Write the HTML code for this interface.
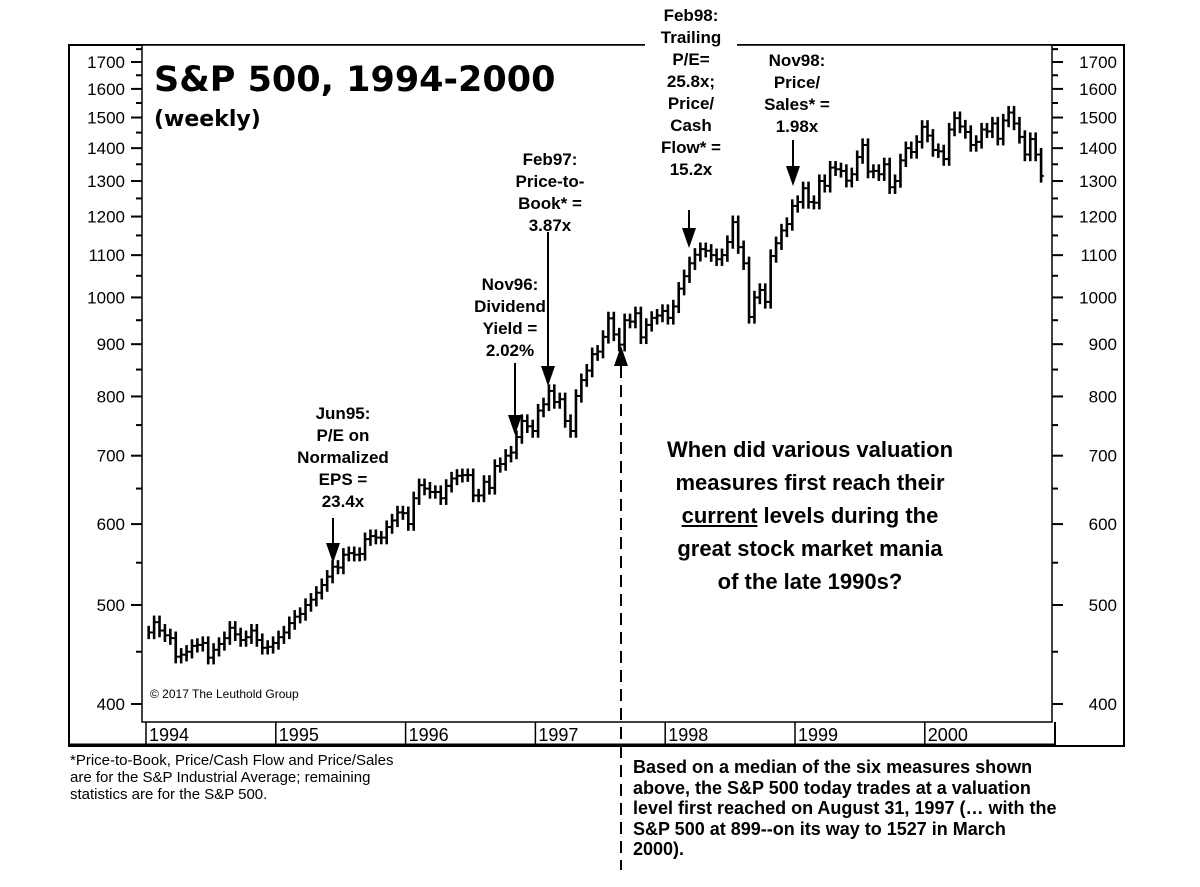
<!DOCTYPE html>
<html><head><meta charset="utf-8">
<style>
html,body{margin:0;padding:0;background:#fff;}
body{width:1200px;height:887px;position:relative;overflow:hidden;font-family:"Liberation Sans",Arial,sans-serif;color:#000;}
.ann{position:absolute;text-align:center;font-weight:bold;font-size:17px;line-height:22px;}
.foot{position:absolute;font-size:15px;line-height:17px;}
.note{position:absolute;font-size:18px;line-height:20.5px;font-weight:bold;}
.q{position:absolute;text-align:center;font-weight:bold;font-size:22px;line-height:33px;}
</style></head>
<body>
<svg id="chart" width="1200" height="887" style="position:absolute;left:0;top:0">
  <rect x="69" y="45" width="1055" height="701" fill="none" stroke="#000" stroke-width="2"/>
  <rect x="142" y="45" width="910" height="677" fill="#fff" stroke="#000" stroke-width="1.5"/>
  <line x1="69" y1="745" x2="1055" y2="745" stroke="#000" stroke-width="3"/>
  <line x1="1055" y1="722" x2="1055" y2="746" stroke="#000" stroke-width="2"/>
  <rect x="645" y="40" width="92" height="10" fill="#fff"/>
  <g id="yaxes"></g>
  <g id="xaxis"></g>
  <g id="bars"></g>
  <text x="150" y="698" font-size="12" font-family="Liberation Sans Narrow, Liberation Sans, sans-serif">© 2017 The Leuthold Group</text>
  <text x="154" y="91" font-size="35" font-weight="bold" font-family="DejaVu Sans, Liberation Sans, sans-serif">S&amp;P 500, 1994-2000</text>
  <text x="154" y="126" font-size="22" font-weight="bold" font-family="DejaVu Sans, Liberation Sans, sans-serif">(weekly)</text>
  <g stroke="#000" stroke-width="2" fill="#000">
    <line x1="333" y1="518" x2="333" y2="548"/><polygon points="326,543 340,543 333,563" stroke="none"/>
    <line x1="515" y1="363" x2="515" y2="420"/><polygon points="508,415 522,415 515,435" stroke="none"/>
    <line x1="548" y1="232" x2="548" y2="370"/><polygon points="541,366 555,366 548,386" stroke="none"/>
    <line x1="689" y1="210" x2="689" y2="232"/><polygon points="682,228 696,228 689,248" stroke="none"/>
    <line x1="793" y1="140" x2="793" y2="170"/><polygon points="786,166 800,166 793,186" stroke="none"/>
    <polygon points="614,366 628,366 621,346" stroke="none"/>
    <line x1="621" y1="366" x2="621" y2="870" stroke-dasharray="12,7"/>
  </g>
</svg>

<div class="ann" style="left:283px;top:403px;width:120px;">Jun95:<br>P/E on<br>Normalized<br>EPS =<br>23.4x</div>
<div class="ann" style="left:455px;top:274px;width:110px;">Nov96:<br>Dividend<br>Yield =<br>2.02%</div>
<div class="ann" style="left:495px;top:149px;width:110px;">Feb97:<br>Price-to-<br>Book* =<br>3.87x</div>
<div class="ann" style="left:645px;top:5px;width:92px;">Feb98:<br>Trailing<br>P/E=<br>25.8x;<br>Price/<br>Cash<br>Flow* =<br>15.2x</div>
<div class="ann" style="left:752px;top:50px;width:90px;">Nov98:<br>Price/<br>Sales* =<br>1.98x</div>

<div class="q" style="left:640px;top:433px;width:340px;">When did various valuation<br>measures first reach their<br><u>current</u> levels during the<br>great stock market mania<br>of the late 1990s?</div>

<div class="foot" style="left:70px;top:752px;width:440px;">*Price-to-Book, Price/Cash Flow and Price/Sales<br>are for the S&amp;P Industrial Average; remaining<br>statistics are for the S&amp;P 500.</div>
<div class="note" style="left:633px;top:757px;width:480px;">Based on a median of the six measures shown<br>above, the S&amp;P 500 today trades at a valuation<br>level first reached on August 31, 1997 (… with the<br>S&amp;P 500 at 899--on its way to 1527 in March<br>2000).</div>

<script>
const yTicks=[400,500,600,700,800,900,1000,1100,1200,1300,1400,1500,1600,1700];
const yearLabels=["1994","1995","1996","1997","1998","1999","2000"];
const startYear=1994;
// semi-monthly closes, Jan 1994 .. Nov 2000
const closes=[
470,481,472,467,464,445,447,450,456,457,459,444,452,458,464,475,468,462,465,472,462,454,455,459,
465,470,480,487,490,500,506,514,523,533,545,544,560,562,560,561,580,584,582,582,596,605,616,615,
600,636,655,650,645,645,636,654,665,669,670,670,640,640,660,651,684,687,700,705,730,757,748,740,
775,786,810,790,795,757,740,801,830,848,880,885,915,954,920,899,950,947,965,914,940,955,960,970,
955,980,1020,1049,1080,1101,1115,1111,1100,1090,1100,1133,1185,1120,1080,957,1000,1017,990,1098,1130,1163,1180,1229,
1240,1279,1240,1238,1300,1286,1340,1335,1330,1301,1320,1372,1410,1328,1330,1320,1350,1282,1300,1362,1400,1388,1420,1469,
1440,1394,1390,1366,1460,1498,1470,1452,1410,1420,1460,1454,1480,1430,1490,1517,1480,1436,1380,1429,1380,1315
];
const X0=146, YW=129.8, Y1700=62, K=443.7;
function yS(v){return Y1700+K*Math.log(1700/v);}
function xS(t){return X0+(t-startYear)*YW;}
const NS="http://www.w3.org/2000/svg";
function mk(tag,attrs,parent){const e=document.createElementNS(NS,tag);for(const k in attrs)e.setAttribute(k,attrs[k]);parent.appendChild(e);return e;}
const ya=document.getElementById('yaxes');
for(let v=400;v<=1750;v+=50){
  const y=yS(v), major=v%100===0;
  const l=mk('line',{x1:major?131:136,y1:y,x2:142,y2:y,stroke:'#000','stroke-width':2},ya);
  
  
  const r=mk('line',{x1:1052,y1:y,x2:major?1063:1058,y2:y,stroke:'#000','stroke-width':2},ya);
  
  
}
yTicks.forEach(v=>{
  const y=yS(v);
  const t=mk('text',{x:125,y:y+6,'font-size':17,'text-anchor':'end'},ya);t.textContent=v;
  
  
  const t2=mk('text',{x:1117,y:y+6,'font-size':17,'text-anchor':'end'},ya);t2.textContent=v;
  
  
});
const xa=document.getElementById('xaxis');
yearLabels.forEach((lab,i)=>{
  const x=xS(startYear+i);
  const l=mk('line',{x1:x,y1:722,x2:x,y2:745,stroke:'#000','stroke-width':1.5},xa);
  
  
  const t=mk('text',{x:x+3,y:741,'font-size':18},xa);t.textContent=lab;
  
  
});
const bg=document.getElementById('bars');
closes.forEach((c,i)=>{
  const prev=i>0?closes[i-1]:c;
  const hi=Math.max(prev,c)*1.015, lo=Math.min(prev,c)*0.985;
  const x=xS(startYear+i/24+1/48);
  const b=mk('line',{x1:x,y1:yS(hi),x2:x,y2:yS(lo),stroke:'#000','stroke-width':2.6},bg);
  
  
  const tk=mk('line',{x1:x,y1:yS(c),x2:x+2.7,y2:yS(c),stroke:'#000','stroke-width':2},bg);
  
  
  if(i>0){
    const o=mk('line',{x1:x-2.7,y1:yS(prev),x2:x,y2:yS(prev),stroke:'#000','stroke-width':2},bg);
    
    
    const conn=mk('line',{x1:xS(startYear+(i-1)/24+1/48),y1:yS(prev),x2:x,y2:yS(prev),stroke:'#000','stroke-width':1.5},bg);
    
    
  }
});
</script>
</body></html>
